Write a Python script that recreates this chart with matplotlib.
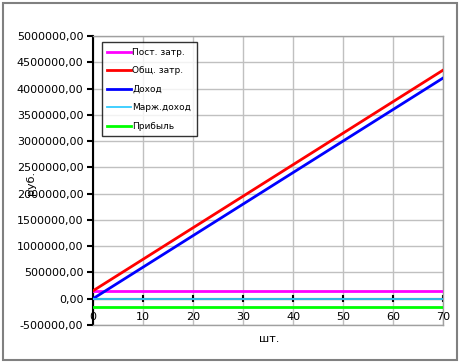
import matplotlib
matplotlib.use("Agg")
import matplotlib.pyplot as plt
from matplotlib.ticker import FuncFormatter
import matplotlib.transforms as mtransforms

# Data
qty = [0, 5, 10, 15, 20, 25, 30, 35, 40, 45, 50, 55, 60, 65, 70]
fixed_costs = [150000] * 15
revenue = [0, 300000, 600000, 900000, 1200000, 1500000, 1800000, 2100000,
           2400000, 2700000, 3000000, 3300000, 3600000, 3900000, 4200000]
total_costs = [150000, 450000, 750000, 1050000, 1350000, 1650000, 1950000, 2250000,
               2550000, 2850000, 3150000, 3450000, 3750000, 4050000, 4350000]
margin = [0] * 15
profit = [-150000] * 15

series_names = ["Пост. затр.", "Общ. затр.", "Доход", "Марж.доход", "Прибыль"]
series_colors = ["#FF00FF", "#FF0000", "#0000FF", "#33CCFF", "#00FF00"]
x_ticks = [0, 10, 20, 30, 40, 50, 60, 70]
y_ticks = [-500000, 0, 500000, 1000000, 1500000, 2000000, 2500000,
           3000000, 3500000, 4000000, 4500000, 5000000]

fig = plt.figure(figsize=(4.61, 3.63), dpi=100)
fig.patch.set_facecolor("white")
# outer chart border
fig.add_artist(plt.Rectangle((0.006, 0.008), 0.985, 0.985, transform=fig.transFigure,
                             fill=False, edgecolor="#808080", linewidth=1.5))

ax = fig.add_axes([0.2017, 0.1047, 0.7593, 0.7961])
ax.set_xlim(0, 70)
ax.set_ylim(-500000, 5000000)

for vals, name, col in zip([fixed_costs, total_costs, revenue, margin, profit],
                           series_names, series_colors):
    lw = 1.3 if name == "Марж.доход" else 2.0
    ax.plot(qty, vals, color=col, linewidth=lw, label=name, zorder=3)

ax.set_yticks(y_ticks)
ax.yaxis.set_major_formatter(FuncFormatter(lambda v, p: f"{int(v)},00"))
ax.set_xticks(x_ticks)
ax.grid(True, color="#C0C0C0", linewidth=1.0, zorder=0)
ax.set_axisbelow(True)

for s in ["top", "right", "bottom"]:
    ax.spines[s].set_color("#A0A0A0")
    ax.spines[s].set_linewidth(1.0)
ax.spines["left"].set_color("black")
ax.spines["left"].set_linewidth(1.5)

ax.tick_params(axis="y", direction="out", length=4, width=1.5, labelsize=8,
               colors="black", pad=3)
ax.tick_params(axis="x", length=0, labelbottom=False)

# x axis line at zero with ticks
ax.axhline(0, color="black", linewidth=1.5, zorder=2)
trans = mtransforms.blended_transform_factory(ax.transData, ax.transAxes)
for xt in x_ticks:
    ax.plot([xt, xt], [-50000, 50000], color="black", linewidth=1.5, zorder=2)
    ax.text(xt, 0.028, str(xt), transform=trans, ha="center", va="center",
            fontsize=8, color="black")

fig.text(0.068, 0.495, "руб.", rotation=90, ha="center", va="center", fontsize=8)
fig.text(0.585, 0.065, "шт.", ha="center", va="center", fontsize=8)

leg = ax.legend(loc="upper left", bbox_to_anchor=(0.025, 0.978), fontsize=6.5,
                frameon=True, fancybox=False, edgecolor="black",
                handlelength=2.6, handletextpad=0.2, labelspacing=1.05,
                borderpad=0.6, borderaxespad=0)
leg.get_frame().set_linewidth(1.0)

fig.savefig("out.png", dpi=100)
